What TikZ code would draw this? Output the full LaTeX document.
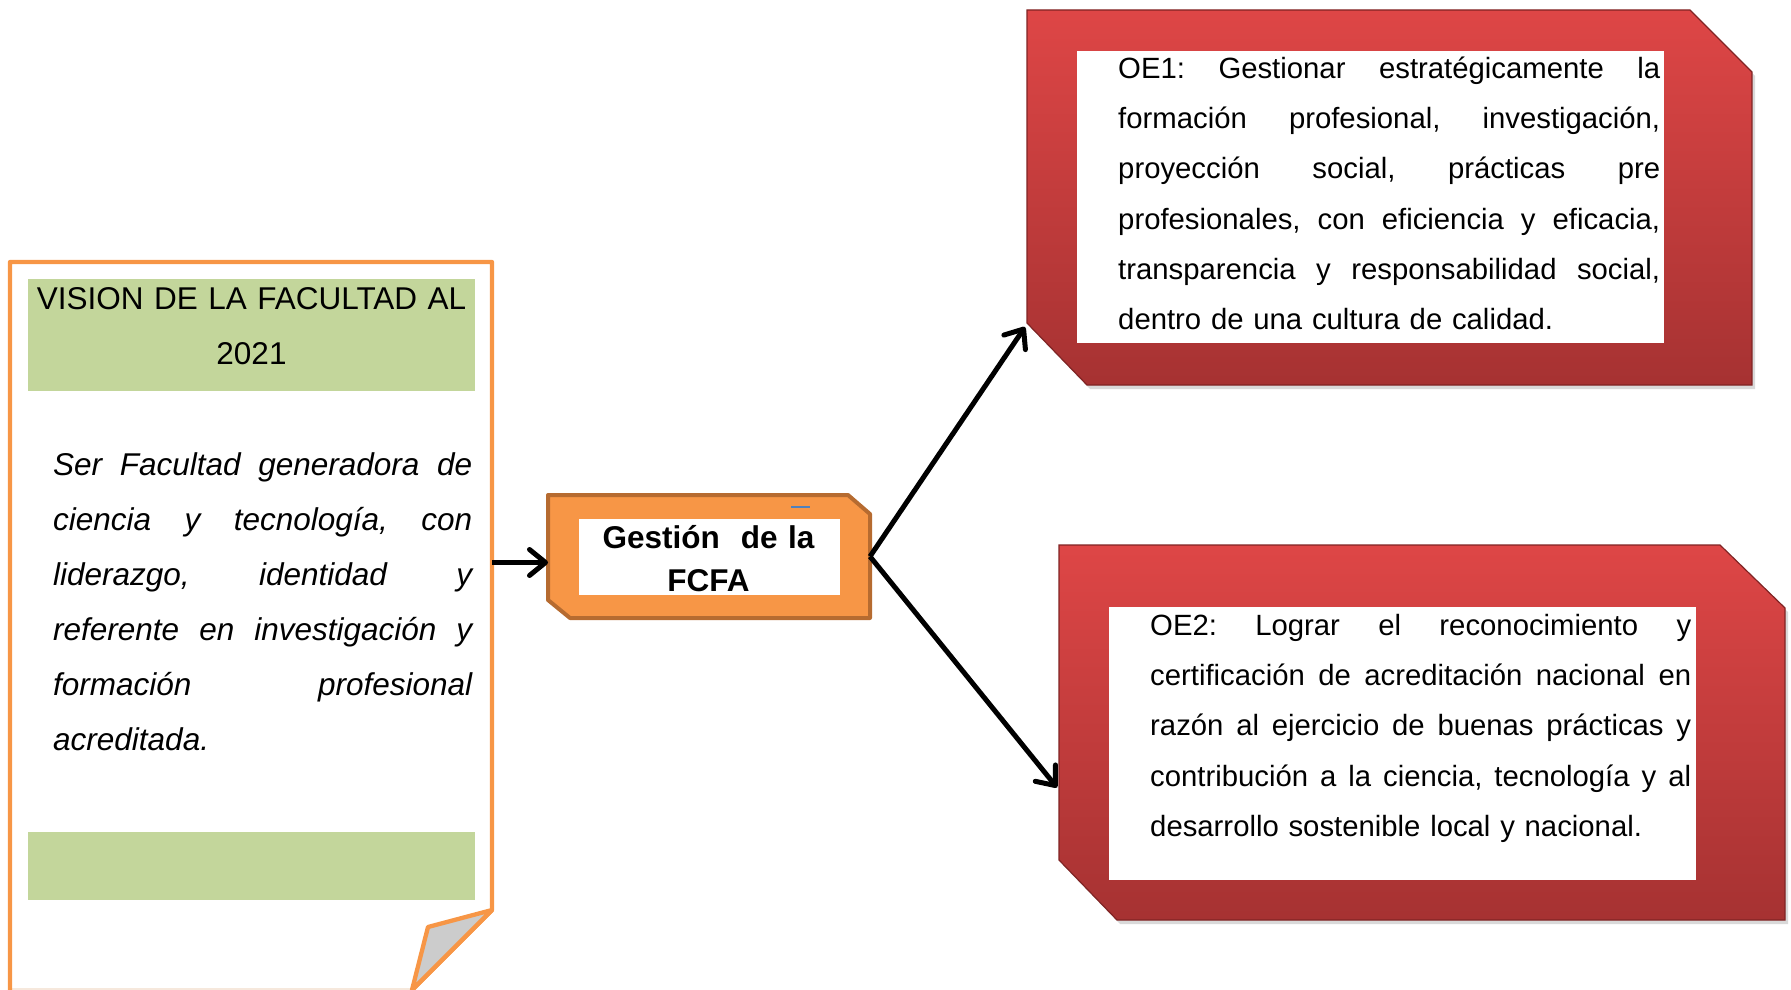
\documentclass[tikz,border=0pt]{standalone}
\usepackage{fontspec}
\setmainfont{Liberation Sans}
\usetikzlibrary{arrows.meta,calc,shadows}
\definecolor{orangeF}{HTML}{F79646}
\definecolor{orangeD}{RGB}{182,107,48}
\definecolor{greenF}{HTML}{C3D69B}
\definecolor{redT}{RGB}{222,70,70}
\definecolor{redB}{RGB}{166,50,50}
\definecolor{redE}{RGB}{128,36,36}
\definecolor{foldG}{HTML}{CCCCCC}
\definecolor{dashB}{HTML}{4F81BD}
\definecolor{faintE}{RGB}{246,232,220}
\newcommand\justline[2]{\makebox[#1][s]{\spaceskip=.278em plus 1fil\relax #2}\\}
\begin{document}
\frenchspacing
\begin{tikzpicture}[x=1pt,y=-1pt,
  arr/.style={line width=5pt,-{Straight Barb[length=16pt,width=26pt,round]}},
  anchorbox/.style={inner sep=0pt,outer sep=0pt,draw=none},
  greenbar/.style={anchorbox,fill=greenF,minimum width=447pt},
  whitebox/.style={anchorbox,fill=white},
  redbox/.style={top color=redT,bottom color=redB,draw=redE,line width=1.2pt,
    drop shadow={opacity=0.3,shadow xshift=3pt,shadow yshift=-4pt}},
  oetext/.style={anchor=base west,inner sep=0pt,text width=545pt,align=left,
    font=\frenchspacing\fontsize{29.3pt}{50.4pt}\selectfont},
  vistext/.style={anchor=base west,inner sep=0pt,text width=425pt,align=left,
    font=\frenchspacing\itshape\fontsize{31.5pt}{55pt}\selectfont},
  titletext/.style={anchor=base,inner sep=0pt,text width=447pt,align=center,
    font=\fontsize{31.5pt}{55pt}\selectfont},
  gesttext/.style={anchor=base,inner sep=0pt,text width=261pt,align=center,
    font=\bfseries\fontsize{31.5pt}{43pt}\selectfont}
]
\useasboundingbox (0,0) rectangle (1791,990);

% ---------- left document box ----------
\node[anchorbox,minimum width=482pt,minimum height=730pt,anchor=north west] (vision) at (10,260) {};
\draw[faintE,line width=2pt] (10,989) -- (412,989);
\draw[orangeF,line width=4.3pt,line join=round] (10,990) -- (10,262) -- (492,262) -- (492,910) -- (412,990);
\draw[orangeF,line width=4.3pt,line join=round,fill=foldG] (492,910) -- (428,927) -- (412,990) -- cycle;
\node[greenbar,minimum height=112pt] (vis-head) at (251.5,335) {};
\node[greenbar,minimum height=68pt] (vis-foot) at (251.5,866) {};
\node[titletext] (vis-title) at (251.5,309) {VISION DE LA FACULTAD AL\\2021};
\node[vistext] (vis-body) at (53,475) {%
\justline{419pt}{Ser Facultad generadora de}
\justline{419pt}{ciencia y tecnología, con}
\justline{419pt}{liderazgo, identidad y}
\justline{419pt}{referente en investigación y}
\justline{419pt}{formación profesional}
acreditada.};

% ---------- centre box ----------
\node[anchorbox,minimum width=322pt,minimum height=123pt] (gest) at (709,556.5) {};
\draw[fill=orangeF,draw=orangeD,line width=4pt,line join=round]
  (548,495) -- (848,495) -- (870,514) -- (870,618) -- (570,618) -- (548,600) -- cycle;
\node[whitebox,minimum width=261pt,minimum height=76pt] (gest-in) at (709.5,557) {};
\draw[dashB,line width=1.5pt] (791,507) -- (810,507);
\node[gesttext] (gest-text) at (708.5,548) {Gestión\ \ de la\\FCFA};

% ---------- OE1 ----------
\node[anchorbox,minimum width=725pt,minimum height=375pt,anchor=north west] (oe1) at (1027,10) {};
\path[redbox] (1027,10) -- (1690,10) -- (1752,72) -- (1752,385) -- (1087,385) -- (1027,323) -- cycle;
\node[whitebox,minimum width=587pt,minimum height=292pt,anchor=north west] (oe1-in) at (1077,51) {};
\node[oetext] (oe1-text) at (1118,78) {%
\justline{542pt}{OE1: Gestionar estratégicamente la}
\justline{542pt}{formación profesional, investigación,}
\justline{542pt}{proyección social, prácticas pre}
\justline{542pt}{profesionales, con eficiencia y eficacia,}
\justline{542pt}{transparencia y responsabilidad social,}
dentro de una cultura de calidad.};

% ---------- OE2 ----------
\node[anchorbox,minimum width=726pt,minimum height=375pt,anchor=north west] (oe2) at (1059,545) {};
\path[redbox] (1059,545) -- (1720,545) -- (1785,608) -- (1785,920) -- (1117,920) -- (1059,860) -- cycle;
\node[whitebox,minimum width=587pt,minimum height=273pt,anchor=north west] (oe2-in) at (1109,607) {};
\node[oetext] (oe2-text) at (1150,635) {%
\justline{541pt}{OE2: Lograr el reconocimiento y}
\justline{541pt}{certificación de acreditación nacional en}
\justline{541pt}{razón al ejercicio de buenas prácticas y}
\justline{541pt}{contribución a la ciencia, tecnología y al}
desarrollo sostenible local y nacional.};

% ---------- connectors ----------
\coordinate (gw) at ($(gest.west)+(0,6)$);
\coordinate (oe1-tip) at ($(oe1.south west)+(-2,-58)$);
\coordinate (oe2-tip) at ($(oe2.west)+(-2,55)$);
\draw[arr] (gw -| vision.east) -- (gw);
\draw[arr] (gest.east) -- (oe1-tip);
\draw[arr] (gest.east) -- (oe2-tip);
\end{tikzpicture}
\end{document}
